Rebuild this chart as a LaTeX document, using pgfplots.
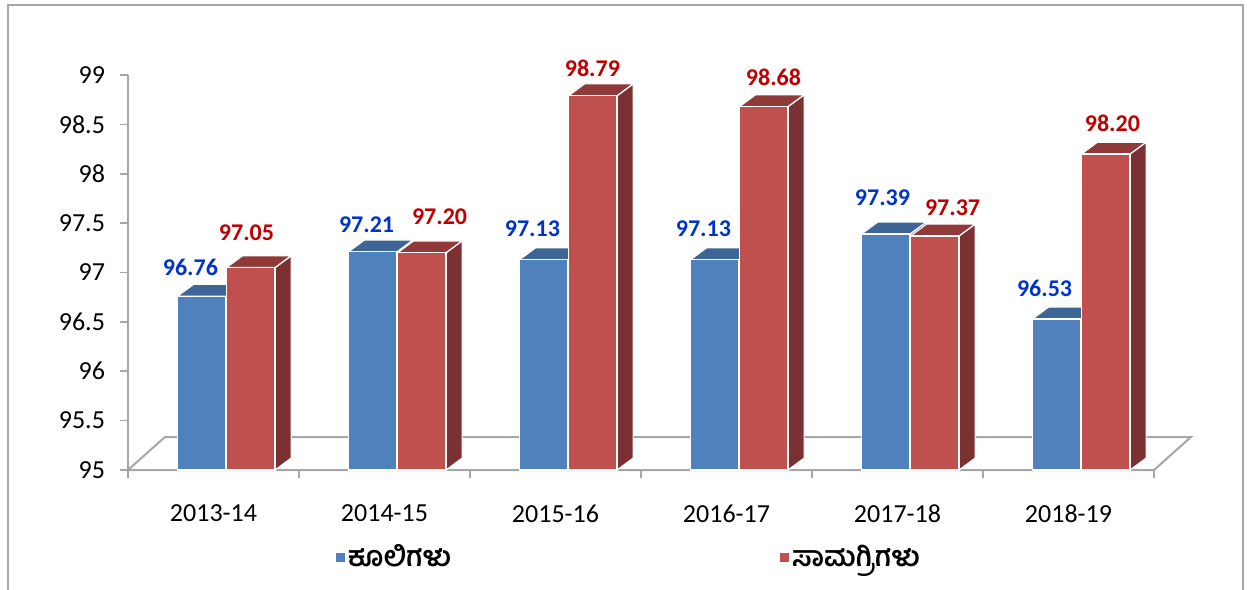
\documentclass[border=0pt]{standalone}
\usepackage{pgfplots}
\pgfplotsset{compat=1.18}
\usepackage{pgfplotstable}
\usepackage{fontspec}
\setmainfont{Carlito}
\newfontfamily\kn[Script=Kannada]{Hind Mysuru}

\definecolor{kblue}{HTML}{4F81BD}
\definecolor{kbluetop}{HTML}{3D6595}
\definecolor{kblueside}{HTML}{2F4F78}
\definecolor{kred}{HTML}{C0504D}
\definecolor{kredtop}{HTML}{8F3A38}
\definecolor{kredside}{HTML}{7B3131}
\definecolor{lblue}{HTML}{0033CC}
\definecolor{lred}{HTML}{C00000}
\definecolor{axgray}{HTML}{A6A6A6}

% values, and where each value label sits
\pgfplotstableread{
x kooli samagri bxl byl rxl ryl
0 96.76 97.05 -0.135 97.056 0.193 97.400
1 97.21 97.20 0.895 97.481 1.322 97.562
2 97.13 98.79 1.865 97.441 2.216 99.071
3 97.13 98.68 2.865 97.441 3.275 98.980
4 97.39 97.37 3.912 97.754 4.322 97.653
5 96.53 98.20 4.860 96.843 5.257 98.514
}\datatable

\newcommand\bw{0.284}
\newcommand\ddx{0.094}
\newcommand\ddy{0.12}

% one 3D bar: #1 left x, #2 value, #3 front, #4 top, #5 side
\newcommand\cube[5]{%
 \pgfmathsetmacro\xa{#1}%
 \pgfmathsetmacro\xb{#1+\bw}%
 \pgfmathsetmacro\xc{#1+\bw+\ddx}%
 \pgfmathsetmacro\xd{#1+\ddx}%
 \pgfmathsetmacro\yt{#2+\ddy}%
 \pgfmathsetmacro\yb{95+\ddy}%
 \edef\tempa{\noexpand\addplot[forget plot, fill=#5, draw=white, line width=0.6pt] coordinates {(\xb,95) (\xc,\yb) (\xc,\yt) (\xb,#2)} -- cycle;}%
 \tempa
 \edef\tempb{\noexpand\addplot[forget plot, fill=#4, draw=white, line width=0.6pt] coordinates {(\xa,#2) (\xb,#2) (\xc,\yt) (\xd,\yt)} -- cycle;}%
 \tempb
 \edef\tempc{\noexpand\addplot[forget plot, fill=#3, draw=white, line width=0.6pt] coordinates {(\xa,95) (\xb,95) (\xb,#2) (\xa,#2)} -- cycle;}%
 \tempc
}

\begin{document}
\begin{tikzpicture}
\path[use as bounding box] (0,0) rectangle (625pt,295pt);
\begin{axis}[
  at={(64pt,60pt)}, anchor=south west,
  scale only axis, width=513pt, height=197.5pt,
  xmin=-0.5, xmax=5.5, ymin=95, ymax=99,
  clip=false,
  axis lines=left,
  axis line style={-, draw=axgray, line width=0.8pt},
  tick align=outside,
  ytick={95,95.5,...,99},
  ytick style={draw=axgray, line width=0.8pt},
  major tick length=4pt,
  xtick={0,...,5},
  xticklabels={2013-14,2014-15,2015-16,2016-17,2017-18,2018-19},
  major x tick style={draw=none},
  minor xtick={-0.5,0.5,...,5.5},
  minor x tick style={draw=axgray, line width=0.8pt},
  minor tick length=4pt,
  /pgf/number format/assume math mode=true,
  ticklabel style={font=\fontsize{13}{15}\selectfont, text=black},
  xticklabel style={yshift=-10pt},
  yticklabel style={xshift=-4pt},
  legend style={at={(0.489,-0.22)}, anchor=center, draw=none, fill=none,
    legend columns=2, font=\kn\bfseries\fontsize{14}{16}\selectfont,
    nodes={inner xsep=1.5pt},
    /tikz/every even column/.append style={column sep=163pt}},
]
% floor
\addplot[forget plot, fill=white, draw=axgray, line width=1pt] coordinates {(-0.5,95) (5.5,95) (5.716,95.334) (-0.284,95.334)} -- cycle;

\pgfplotsforeachungrouped \i in {0,...,5}{%
  \pgfplotstablegetelem{\i}{kooli}\of\datatable \let\vk\pgfplotsretval
  \pgfplotstablegetelem{\i}{samagri}\of\datatable \let\vs\pgfplotsretval
  \pgfmathsetmacro\xl{\i-0.2105}%
  \cube{\xl}{\vk}{kblue}{kbluetop}{kblueside}%
  \pgfmathsetmacro\xr{\i+0.076}%
  \cube{\xr}{\vs}{kred}{kredtop}{kredside}%
}

\addplot[forget plot, draw=none, mark=none, point meta=explicit,
  nodes near coords={\pgfmathprintnumber[fixed,fixed zerofill,precision=2,assume math mode=true]{\pgfplotspointmeta}},
  nodes near coords style={font=\bfseries\fontsize{12}{14}\selectfont, text=lblue, anchor=center, inner sep=0pt}]
  table[x=bxl, y=byl, meta=kooli]{\datatable};
\addplot[forget plot, draw=none, mark=none, point meta=explicit,
  nodes near coords={\pgfmathprintnumber[fixed,fixed zerofill,precision=2,assume math mode=true]{\pgfplotspointmeta}},
  nodes near coords style={font=\bfseries\fontsize{12}{14}\selectfont, text=lred, anchor=center, inner sep=0pt}]
  table[x=rxl, y=ryl, meta=samagri]{\datatable};

\addlegendimage{legend image code/.code={\fill[kblue] (0pt,-2pt) rectangle (4pt,2pt);}}
\addlegendentry{ಕೂಲಿಗಳು}
\addlegendimage{legend image code/.code={\fill[kred] (0pt,-2pt) rectangle (4pt,2pt);}}
\addlegendentry{ಸಾಮಗ್ರಿಗಳು}
\end{axis}
\draw[axgray, line width=0.6pt] (4pt,0pt) |- (621.5pt,292.5pt) -- (621.5pt,0pt);
\end{tikzpicture}
\end{document}
